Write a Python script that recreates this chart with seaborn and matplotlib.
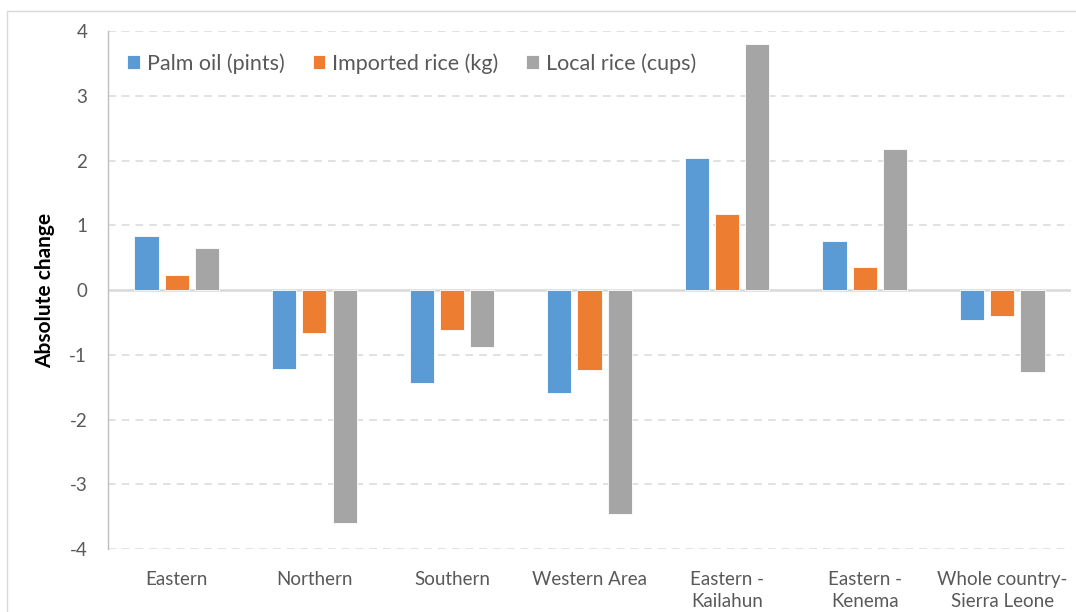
import matplotlib
matplotlib.use("Agg")
import matplotlib.pyplot as plt
import matplotlib.patches as mpatches
import pandas as pd
import seaborn as sns

regions = ["Eastern", "Northern", "Southern", "Western Area",
           "Eastern -\nKailahun", "Eastern -\nKenema", "Whole country-\nSierra Leone"]
palm_oil = [0.83, -1.22, -1.43, -1.59, 2.04, 0.75, -0.46]
imported_rice = [0.23, -0.67, -0.61, -1.24, 1.17, 0.35, -0.40]
local_rice = [0.65, -3.60, -0.88, -3.46, 3.80, 2.18, -1.27]
series = ["Palm oil (pints)", "Imported rice (kg)", "Local rice (cups)"]
colors = ["#5B9BD5", "#ED7D31", "#A5A5A5"]

df = pd.DataFrame({"region": regions * 3,
                   "item": [s for s in series for _ in regions],
                   "value": palm_oil + imported_rice + local_rice})

sns.set_style("white")
plt.rcParams["font.family"] = ["Lato", "DejaVu Sans"]
plt.rcParams["axes.unicode_minus"] = False

fig = plt.figure(figsize=(10.76, 6.12), dpi=100)
ax = fig.add_axes([0.1004, 0.1029, 0.8950, 0.8464])

sns.barplot(data=df, x="region", y="value", hue="item", hue_order=series,
            palette=colors, saturation=1, width=0.66, gap=0.2,
            edgecolor="white", linewidth=0.6, ax=ax, zorder=3)

ax.set_ylim(-4, 4)
ax.set_xlim(-0.5, 6.5)
ax.set_yticks(range(-4, 5))
for y in range(-4, 5):
    if y == 0:
        ax.axhline(0, color="#D9D9D9", lw=1.8, zorder=2)
    else:
        ax.axhline(y, color="#D9D9D9", lw=1.1, ls=(0, (5, 4)), zorder=1)

for side in ["top", "right", "bottom"]:
    ax.spines[side].set_visible(False)
ax.spines["left"].set_color("#BFBFBF")
ax.spines["left"].set_linewidth(1.0)

ax.tick_params(axis="y", length=0, pad=15, labelsize=13.5, labelcolor="#595959")
ax.tick_params(axis="x", length=0, pad=16, labelsize=13.5, labelcolor="#595959")
for lab in ax.get_xticklabels():
    lab.set_linespacing(1.35)
ax.set_xlabel("")
ax.set_ylabel("Absolute change", fontsize=15, fontweight="bold", color="black", labelpad=10)

ax.legend(loc="upper left", ncol=3, frameon=False, fontsize=15.5,
          handlelength=0.6, handleheight=0.6, handletextpad=0.3,
          columnspacing=1.3, bbox_to_anchor=(0.0, 0.995),
          labelcolor="#595959")

fig.patches.append(mpatches.Rectangle((7 / 1076, -0.05), 1.1, 1 - 11 / 612 + 0.05,
                                      transform=fig.transFigure, fill=False,
                                      edgecolor="#D9D9D9", lw=1.0))

fig.savefig("out.png", dpi=100)
